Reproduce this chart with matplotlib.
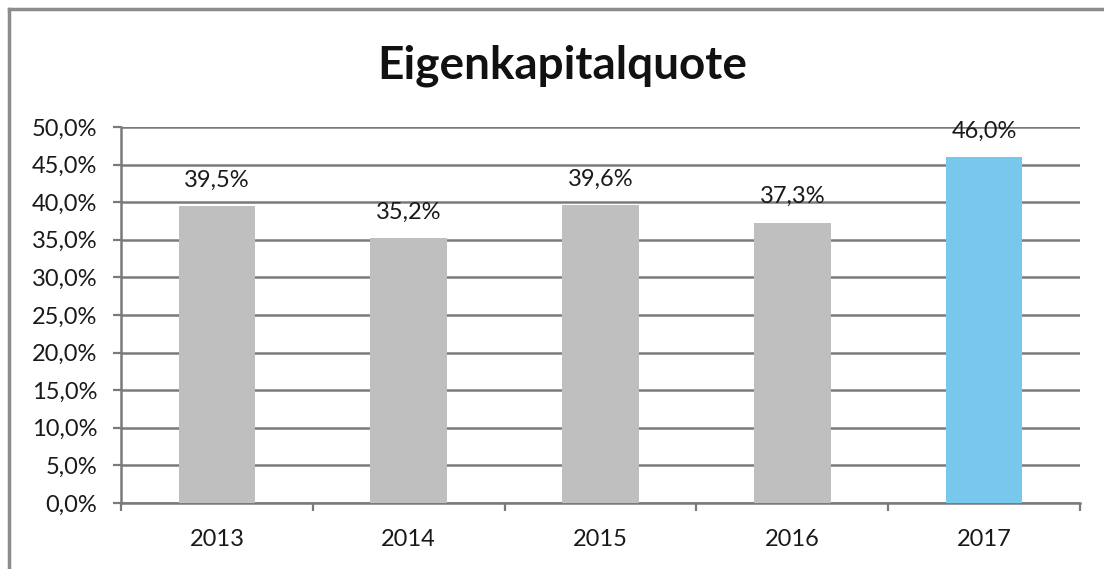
"""
Eigenkapitalquote bar chart (Excel style)
"""

import matplotlib.pyplot as plt
from matplotlib.lines import Line2D
from matplotlib.ticker import MultipleLocator, FuncFormatter, FixedLocator

# =============================================================================
# DATA
# =============================================================================

years = ['2013', '2014', '2015', '2016', '2017']
quote = [39.5, 35.2, 39.6, 37.3, 46.0]
bar_colors = ['#BFBFBF', '#BFBFBF', '#BFBFBF', '#BFBFBF', '#78C8EE']

TITLE = 'Eigenkapitalquote'


def pct(v, _pos=None):
    return f'{v:.1f}%'.replace('.', ',')


# =============================================================================
# PLOT
# =============================================================================

plt.rcParams['font.family'] = ['Lato', 'DejaVu Sans']

fig = plt.figure(figsize=(11.04, 5.69), dpi=100)
fig.patch.set_facecolor('white')
ax = fig.add_axes([121 / 1104, 1 - 503 / 569, (1080 - 121) / 1104, 376 / 569])

x = range(len(years))
ax.bar(x, quote, width=0.4, color=bar_colors, zorder=3)

for xi, v in zip(x, quote):
    ax.annotate(pct(v), (xi, v), xytext=(0, 11), textcoords='offset points',
                ha='center', va='bottom', fontsize=17, color='#1a1a1a', zorder=4)

ax.set_xlim(-0.5, len(years) - 0.5)
ax.set_ylim(0, 50)
ax.yaxis.set_major_locator(MultipleLocator(5))
ax.yaxis.set_major_formatter(FuncFormatter(pct))
ax.grid(axis='y', color='#7A7A7A', linewidth=1.8, zorder=0)
ax.set_axisbelow(True)

ax.set_xticks(list(x))
ax.set_xticklabels(years)
ax.xaxis.set_minor_locator(FixedLocator([i - 0.5 for i in range(len(years) + 1)]))
ax.tick_params(axis='x', which='major', length=0, pad=19, labelsize=17,
               labelcolor='#1a1a1a')
ax.tick_params(axis='x', which='minor', length=6, width=1.6, color='#7A7A7A')
ax.tick_params(axis='y', length=6, width=1.6, color='#7A7A7A', pad=11,
               labelsize=17, labelcolor='#1a1a1a')

for side in ('top', 'right'):
    ax.spines[side].set_visible(False)
for side in ('left', 'bottom'):
    ax.spines[side].set_color('#7A7A7A')
    ax.spines[side].set_linewidth(1.8)

fig.text(562 / 1104, 1 - 66 / 569, TITLE, ha='center', va='center',
         fontsize=33, fontweight='bold', color='#111111')

# chart frame (cut off at right and bottom)
fig.add_artist(Line2D([9 / 1104, 1.0], [1 - 9 / 569] * 2, color='#8C8C8C',
                      linewidth=2.5, transform=fig.transFigure))
fig.add_artist(Line2D([9 / 1104] * 2, [0.0, 1 - 9 / 569], color='#8C8C8C',
                      linewidth=2.5, transform=fig.transFigure))

fig.savefig('out.png', dpi=100, facecolor='white')
